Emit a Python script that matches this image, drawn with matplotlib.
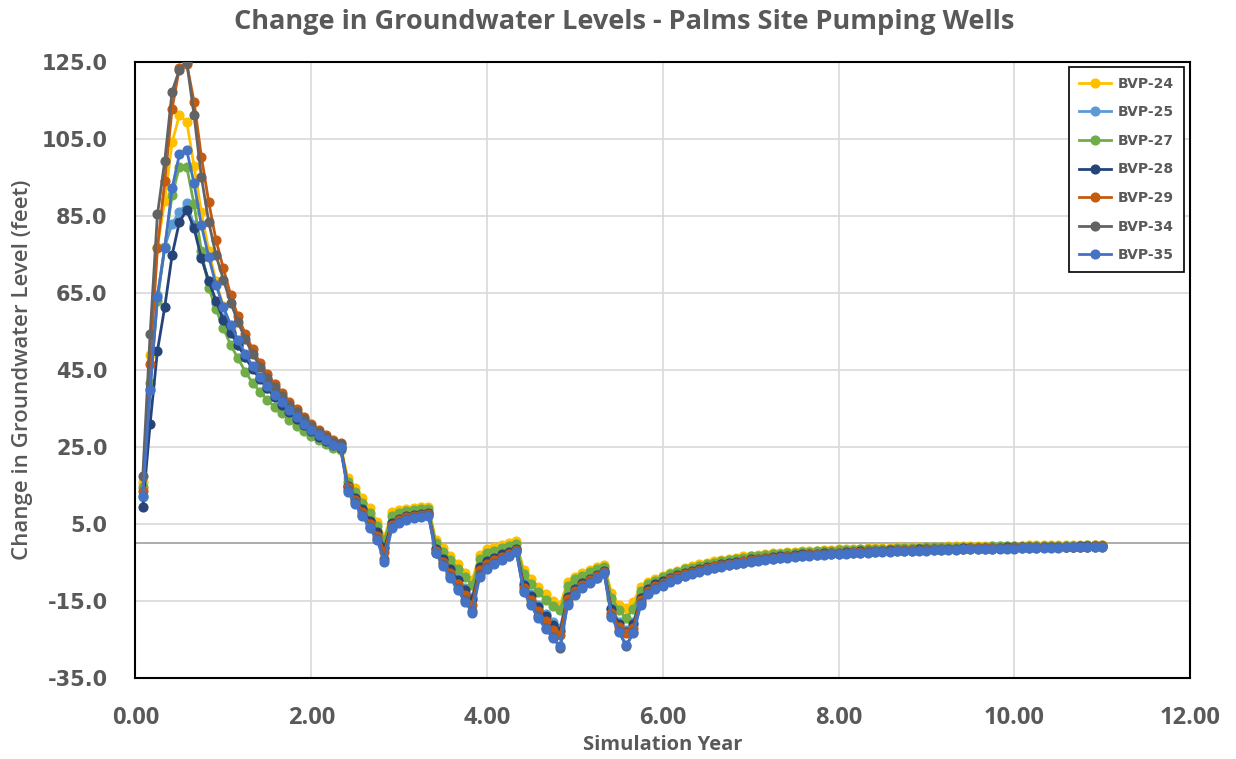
import numpy as np
import matplotlib
matplotlib.use('Agg')
import matplotlib.pyplot as plt

# monthly time steps, year = month / 12
months = np.arange(1, 133)
years = months / 12.0

series_names = ['BVP-24', 'BVP-25', 'BVP-27', 'BVP-28', 'BVP-29', 'BVP-34', 'BVP-35']
series_colors = ['#FFC000', '#5B9BD5', '#70AD47', '#264478', '#C55A11', '#636363', '#4472C4']

bvp24 = [15.9, 49.0, 77.0, 89.0, 104.1, 111.2, 109.5,
         98.0, 86.0, 76.0, 68.0, 61.5,
         56.0, 52.0, 48.6, 45.6, 43.0, 40.6, 38.4, 36.4, 34.5, 32.7, 31.0, 29.4, 28.0, 26.7, 25.6, 25.0,
         17.0, 14.3, 11.7, 9.1, 5.6, 1.5,
         8.0, 8.6, 9.0, 9.2, 9.4, 9.5,
         0.9, -1.2, -3.3, -5.3, -7.6, -9.5,
         -3.0, -1.5, -1.0, -0.5, 0.0, 0.5,
         -6.9, -9.2, -11.3, -13.2, -15.0, -16.0,
         -10.0, -8.7, -7.8, -6.9, -6.2, -5.6,
         -13.0, -16.0, -16.9, -15.2,
         -11.3, -10.0, -9.2, -8.4, -7.7, -7.1, -6.5, -6.0, -5.5, -5.1,
         -4.7, -4.3, -4.0, -3.7, -3.4, -3.2, -3.0, -2.8, -2.6, -2.5,
         -2.3, -2.2, -2.1, -2.0, -1.9, -1.8, -1.7, -1.6, -1.5, -1.5,
         -1.4, -1.3, -1.3, -1.2, -1.2, -1.1, -1.1, -1.0, -1.0, -0.9,
         -0.9, -0.9, -0.8, -0.8, -0.8, -0.7, -0.7, -0.7, -0.7, -0.6,
         -0.6, -0.6, -0.6, -0.5, -0.5, -0.5, -0.5, -0.5, -0.4, -0.4,
         -0.4, -0.4, -0.4, -0.4]

bvp25 = [12.0, 40.0, 64.4, 77.0, 83.0, 86.0, 88.3,
         82.6, 74.5, 68.0, 62.5, 58.5,
         55.0, 51.5, 48.3, 45.4, 42.8, 40.4, 38.2, 36.2, 34.3, 32.5, 30.9, 29.3, 27.9, 26.6, 25.5, 24.9,
         15.0, 12.0, 9.0, 6.1, 3.0, -1.0,
         5.5, 6.6, 7.2, 7.6, 7.9, 8.1,
         -1.2, -3.8, -6.4, -9.0, -11.6, -14.0,
         -5.8, -4.2, -3.4, -2.7, -2.0, -1.2,
         -10.4, -13.3, -16.0, -18.4, -20.4, -22.0,
         -13.5, -11.5, -10.2, -9.1, -8.1, -7.2,
         -16.8, -20.4, -22.6, -20.5,
         -13.8, -11.5, -10.4, -9.5, -8.7, -8.0, -7.4, -6.9, -6.4, -6.0,
         -5.6, -5.2, -4.9, -4.6, -4.3, -4.1, -3.8, -3.6, -3.4, -3.3,
         -3.1, -2.9, -2.8, -2.7, -2.6, -2.5, -2.4, -2.3, -2.2, -2.1,
         -2.0, -1.9, -1.9, -1.8, -1.7, -1.7, -1.6, -1.6, -1.5, -1.5,
         -1.4, -1.4, -1.3, -1.3, -1.3, -1.2, -1.2, -1.2, -1.1, -1.1,
         -1.1, -1.0, -1.0, -1.0, -0.9, -0.9, -0.9, -0.9, -0.8, -0.8,
         -0.8, -0.8, -0.7, -0.7]

bvp27 = [14.5, 41.6, 63.0, 77.0, 90.4, 97.8, 97.8,
         88.0, 76.0, 66.4, 60.8, 55.9,
         51.5, 48.0, 44.6, 41.6, 39.4, 37.2, 35.5, 33.8, 32.0, 30.5, 29.2, 27.9, 26.8, 25.8, 24.7, 24.2,
         16.0, 13.2, 10.5, 7.8, 4.6, 0.8,
         7.0, 7.8, 8.3, 8.6, 8.8, 9.0,
         0.0, -2.2, -4.4, -6.6, -8.8, -10.8,
         -4.0, -2.5, -1.9, -1.3, -0.8, -0.2,
         -8.0, -10.5, -12.7, -14.7, -16.3, -17.3,
         -11.0, -9.4, -8.4, -7.5, -6.8, -6.2,
         -14.2, -17.3, -19.5, -17.0,
         -12.4, -10.6, -9.7, -8.8, -8.1, -7.4, -6.8, -6.3, -5.8, -5.4,
         -5.0, -4.6, -4.3, -4.0, -3.7, -3.4, -3.2, -3.0, -2.8, -2.7,
         -2.5, -2.4, -2.3, -2.2, -2.1, -2.0, -1.9, -1.8, -1.7, -1.7,
         -1.6, -1.5, -1.5, -1.4, -1.4, -1.3, -1.3, -1.2, -1.2, -1.1,
         -1.1, -1.1, -1.0, -1.0, -1.0, -0.9, -0.9, -0.9, -0.8, -0.8,
         -0.8, -0.8, -0.7, -0.7, -0.7, -0.7, -0.6, -0.6, -0.6, -0.6,
         -0.6, -0.5, -0.5, -0.5]

bvp28 = [9.4, 31.0, 50.0, 61.4, 74.8, 83.5, 86.5,
         81.8, 74.0, 68.2, 63.0, 58.0,
         54.7, 51.5, 48.3, 45.3, 42.6, 40.2, 38.0, 36.0, 34.1, 32.3, 30.7, 29.1, 27.7, 26.5, 25.4, 24.8,
         14.8, 11.8, 8.8, 5.9, 2.8, -1.2,
         5.3, 6.4, 7.0, 7.4, 7.7, 7.9,
         -1.4, -4.1, -6.8, -9.5, -12.2, -14.6,
         -6.1, -4.5, -3.7, -2.9, -2.2, -1.4,
         -10.8, -13.8, -16.6, -19.0, -21.2, -22.8,
         -13.9, -11.8, -10.4, -9.3, -8.3, -7.3,
         -17.2, -20.9, -23.0, -21.0,
         -14.2, -11.8, -10.7, -9.8, -9.0, -8.3, -7.7, -7.2, -6.7, -6.2,
         -5.8, -5.4, -5.1, -4.8, -4.5, -4.2, -4.0, -3.8, -3.6, -3.4,
         -3.2, -3.1, -2.9, -2.8, -2.7, -2.6, -2.5, -2.4, -2.3, -2.2,
         -2.1, -2.0, -2.0, -1.9, -1.8, -1.8, -1.7, -1.7, -1.6, -1.6,
         -1.5, -1.5, -1.4, -1.4, -1.3, -1.3, -1.3, -1.2, -1.2, -1.2,
         -1.1, -1.1, -1.1, -1.0, -1.0, -1.0, -0.9, -0.9, -0.9, -0.9,
         -0.8, -0.8, -0.8, -0.8]

bvp29 = [13.7, 46.5, 76.7, 94.0, 112.8, 123.5, 124.5,
         114.7, 100.4, 88.7, 78.7, 71.4,
         64.5, 58.9, 54.4, 50.4, 46.9, 44.0, 41.4, 39.0, 36.8, 34.8, 32.9, 31.0, 29.4, 28.1, 26.8, 26.1,
         14.5, 11.3, 8.2, 5.1, 2.0, -2.2,
         4.8, 6.0, 6.7, 7.1, 7.4, 7.6,
         -1.9, -4.8, -7.7, -10.6, -13.5, -16.0,
         -6.9, -5.3, -4.4, -3.5, -2.7, -1.8,
         -11.6, -14.8, -17.7, -20.3, -22.4, -23.8,
         -14.6, -12.3, -10.8, -9.6, -8.5, -7.4,
         -18.0, -21.8, -23.4, -21.9,
         -14.8, -12.3, -11.2, -10.2, -9.4, -8.6, -8.0, -7.4, -6.9, -6.5,
         -6.0, -5.6, -5.3, -5.0, -4.7, -4.4, -4.2, -3.9, -3.7, -3.5,
         -3.4, -3.2, -3.1, -2.9, -2.8, -2.7, -2.6, -2.5, -2.4, -2.3,
         -2.2, -2.1, -2.0, -2.0, -1.9, -1.8, -1.8, -1.7, -1.7, -1.6,
         -1.6, -1.5, -1.5, -1.4, -1.4, -1.3, -1.3, -1.3, -1.2, -1.2,
         -1.2, -1.1, -1.1, -1.1, -1.0, -1.0, -1.0, -1.0, -0.9, -0.9,
         -0.9, -0.9, -0.8, -0.8]

bvp34 = [17.4, 54.3, 85.4, 99.3, 117.3, 123.0, 125.0,
         111.2, 95.2, 83.5, 74.8, 68.5,
         62.5, 57.5, 53.0, 49.2, 45.9, 43.0, 40.5, 38.2, 36.0, 34.0, 32.2, 30.4, 28.9, 27.6, 26.4, 25.8,
         13.8, 10.6, 7.4, 4.3, 1.1, -4.0,
         4.2, 5.5, 6.3, 6.8, 7.1, 7.4,
         -2.4, -5.5, -8.6, -11.7, -14.8, -17.6,
         -8.0, -6.2, -5.1, -4.1, -3.2, -2.1,
         -12.3, -15.8, -19.0, -21.9, -24.3, -27.3,
         -15.6, -13.1, -11.4, -10.1, -8.9, -7.7,
         -18.8, -22.7, -26.8, -23.0,
         -15.6, -12.9, -11.7, -10.7, -9.8, -9.0, -8.4, -7.8, -7.3, -6.8,
         -6.4, -6.0, -5.6, -5.3, -5.0, -4.7, -4.4, -4.2, -4.0, -3.8,
         -3.6, -3.4, -3.3, -3.1, -3.0, -2.9, -2.8, -2.7, -2.6, -2.5,
         -2.4, -2.3, -2.2, -2.1, -2.1, -2.0, -1.9, -1.9, -1.8, -1.8,
         -1.7, -1.7, -1.6, -1.6, -1.5, -1.5, -1.4, -1.4, -1.4, -1.3,
         -1.3, -1.3, -1.2, -1.2, -1.2, -1.1, -1.1, -1.1, -1.0, -1.0,
         -1.0, -0.9, -0.9, -0.9]

bvp35 = [12.2, 39.7, 64.0, 76.7, 92.2, 101.0, 102.1,
         93.5, 82.6, 74.4, 67.1, 61.4,
         56.7, 52.8, 49.2, 46.0, 43.2, 40.8, 38.6, 36.6, 34.6, 32.8, 31.1, 29.5, 28.0, 26.8, 25.6, 25.0,
         13.4, 10.2, 7.0, 3.9, 0.8, -4.8,
         3.9, 5.2, 6.1, 6.6, 6.9, 7.2,
         -2.6, -5.8, -9.0, -12.2, -15.2, -18.0,
         -8.7, -6.6, -5.4, -4.3, -3.3, -2.2,
         -12.6, -16.1, -19.4, -22.3, -24.6, -26.7,
         -16.0, -13.4, -11.7, -10.4, -9.1, -7.8,
         -19.1, -23.0, -26.4, -23.4,
         -16.0, -13.2, -12.0, -11.0, -10.1, -9.3, -8.6, -8.0, -7.5, -7.0,
         -6.5, -6.1, -5.7, -5.4, -5.1, -4.8, -4.5, -4.3, -4.1, -3.9,
         -3.7, -3.5, -3.4, -3.2, -3.1, -3.0, -2.9, -2.8, -2.7, -2.6,
         -2.5, -2.4, -2.3, -2.2, -2.2, -2.1, -2.0, -2.0, -1.9, -1.9,
         -1.8, -1.8, -1.7, -1.7, -1.6, -1.6, -1.5, -1.5, -1.5, -1.4,
         -1.4, -1.4, -1.3, -1.3, -1.3, -1.2, -1.2, -1.2, -1.1, -1.1,
         -1.1, -1.0, -1.0, -1.0]

series_values = [bvp24, bvp25, bvp27, bvp28, bvp29, bvp34, bvp35]

y_ticks = [-35.0, -15.0, 5.0, 25.0, 45.0, 65.0, 85.0, 105.0, 125.0]
x_ticks = [0, 2, 4, 6, 8, 10, 12]

text_grey = '#595959'

fig = plt.figure(figsize=(12.36, 7.59), dpi=100)
ax = fig.add_axes([0.1096, 0.1067, 0.8532, 0.8116])

for name, vals, col in zip(series_names, series_values, series_colors):
    ax.plot(years, vals, color=col, lw=2.0, marker='o', markersize=6.3, label=name, zorder=3)

ax.axhline(0, color='#a6a6a6', lw=1.3, zorder=2)

ax.set_xlim(0, 12)
ax.set_ylim(-35, 125)
ax.set_xticks(x_ticks)
ax.set_yticks(y_ticks)
ax.set_xticklabels(['%.2f' % v for v in x_ticks])
ax.set_yticklabels(['%.1f' % v for v in y_ticks])
ax.grid(True, color='#d9d9d9', lw=1.2, zorder=0)
ax.set_axisbelow(True)
ax.tick_params(axis='both', length=0, colors=text_grey)
ax.tick_params(axis='y', pad=20)
ax.tick_params(axis='x', pad=20)
for lbl in ax.get_yticklabels():
    lbl.set_fontsize(15)
    lbl.set_fontweight('bold')
    lbl.set_family('DejaVu Sans')
for lbl in ax.get_xticklabels():
    lbl.set_fontsize(17)
    lbl.set_fontweight('bold')
    lbl.set_family('Open Sans')
for sp in ax.spines.values():
    sp.set_color('black')
    sp.set_linewidth(1.5)

ax.set_xlabel('Simulation Year', fontsize=14.5, fontweight='bold', color=text_grey,
              family='Open Sans', labelpad=4)
ax.set_ylabel('Change in Groundwater Level (feet)', fontsize=16, fontweight='semibold',
              color=text_grey, family='Open Sans', labelpad=6)
fig.suptitle('Change in Groundwater Levels - Palms Site Pumping Wells', x=0.505, y=0.988,
             fontsize=19.5, fontweight='bold', color=text_grey, family='Open Sans')

leg = ax.legend(loc='upper right', bbox_to_anchor=(0.994, 0.992), borderaxespad=0,
                fancybox=False, edgecolor='black', framealpha=1,
                prop={'family': 'DejaVu Sans', 'weight': 'bold', 'size': 10},
                labelspacing=1.05, handlelength=2.3, handletextpad=0.5, borderpad=0.7)
leg.get_frame().set_linewidth(1.2)
for t in leg.get_texts():
    t.set_color(text_grey)

fig.savefig('out.png', dpi=100)
